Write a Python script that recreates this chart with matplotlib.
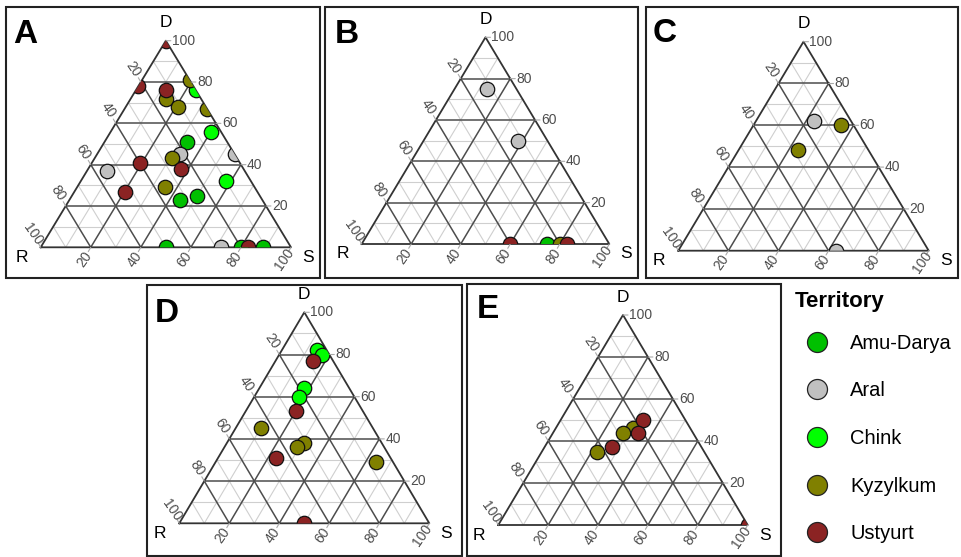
import matplotlib
matplotlib.use("Agg")
import matplotlib.pyplot as plt
from matplotlib.patches import Polygon, Rectangle
from matplotlib.lines import Line2D

plt.rcParams['font.family'] = ['Liberation Sans', 'DejaVu Sans']

FIG_W, FIG_H = 961, 557

territories = ["Amu-Darya", "Aral", "Chink", "Kyzylkum", "Ustyurt"]
territory_colors = ["#00C000", "#C0C0C0", "#00FF00", "#808000", "#8B2323"]
tick_values = [20, 40, 60, 80, 100]

# ---- Panel A ----
A_territory = ["Amu-Darya"] * 6 + ["Aral"] * 4 + ["Chink"] * 3 + ["Kyzylkum"] * 6 + ["Ustyurt"] * 7
A_R = [16, 25, 33, 50, 20, 11,   22, 0, 55, 28,   0, 4, 10,   0, 14, 11, 0, 26, 36,   0, 22, 12, 25, 40, 53, 17]
A_D = [51, 25, 23, 0, 0, 0,      45, 45, 37, 0,   76, 56, 32,  81, 72, 68, 67, 43, 29,  100, 78, 76, 38, 41, 27, 0]
A_S = [33, 50, 44, 50, 80, 89,   33, 55, 8, 72,   24, 40, 58,  19, 14, 21, 33, 31, 35,  0, 0, 12, 37, 19, 20, 83]

# ---- Panel B ----
B_territory = ["Amu-Darya", "Aral", "Aral", "Kyzylkum", "Ustyurt", "Ustyurt"]
B_R = [25, 12, 12, 20, 40, 17]
B_D = [0, 75, 50, 0, 0, 0]
B_S = [75, 13, 38, 80, 60, 83]

# ---- Panel C ----
C_territory = ["Aral", "Aral", "Kyzylkum", "Kyzylkum"]
C_R = [15, 37, 5, 28]
C_D = [62, 0, 60, 48]
C_S = [23, 63, 35, 24]

# ---- Panel D ----
D_territory = ["Chink"] * 4 + ["Kyzylkum"] * 4 + ["Ustyurt"] * 4
D_R = [4, 3, 18, 22,   45, 31, 35, 7,   8, 27, 46, 50]
D_D = [82, 80, 64, 60, 45, 38, 36, 29,  77, 53, 31, 0]
D_S = [14, 17, 18, 18, 10, 31, 29, 64,  15, 20, 23, 50]

# ---- Panel E ----
E_territory = ["Kyzylkum"] * 3 + ["Ustyurt"] * 4
E_R = [23, 28, 43,   17, 22, 36, 0]
E_D = [46, 44, 35,   50, 44, 37, 0]
E_S = [31, 28, 22,   33, 34, 27, 100]

# ---- layout (pixels) ----
panels = [
    # letter, (x_R, x_S, y_top, y_bottom), box (x0, y0, x1, y1), letter baseline (x, y), data
    ("A", (40.7, 291.0, 40.7, 247.3), (6, 7, 320, 278), (13, 43), (A_territory, A_R, A_D, A_S)),
    ("B", (361.7, 609.3, 37.3, 244.0), (325, 7, 638, 278), (335, 43), (B_territory, B_R, B_D, B_S)),
    ("C", (678.3, 928.7, 41.7, 250.7), (646, 7, 958, 278), (653, 42), (C_territory, C_R, C_D, C_S)),
    ("D", (179.3, 429.3, 312.3, 523.3), (147, 285, 462, 556), (155, 322), (D_territory, D_R, D_D, D_S)),
    ("E", (498.3, 747.7, 315.0, 525.0), (467, 284, 781, 556), (477, 318), (E_territory, E_R, E_D, E_S)),
]

fig = plt.figure(figsize=(FIG_W / 100, FIG_H / 100), dpi=100)
fig.patch.set_facecolor("white")

MAJOR_C = "#4d4d4d"
MINOR_C = "#cfcfcf"
LABEL_C = "#4d4d4d"


def draw_panel(letter, tri, box, letter_pos, data):
    xr, xs, yt, yb = tri
    ax = fig.add_axes([xr / FIG_W, 1 - yb / FIG_H, (xs - xr) / FIG_W, (yb - yt) / FIG_H])
    ax.set_xlim(0, 100)
    ax.set_ylim(0, 100)
    ax.axis("off")

    # grid: minor first then major
    for major in (False, True):
        for v in range(10, 100, 10):
            if (v % 20 == 0) != major:
                continue
            c = MAJOR_C if major else MINOR_C
            lw = 1.1 if major else 0.8
            ax.plot([v / 2, 100 - v / 2], [v, v], color=c, lw=lw, zorder=1)          # const D
            ax.plot([(100 - v) / 2, 100 - v], [100 - v, 0], color=c, lw=lw, zorder=1)  # const R
            ax.plot([v, 50 + v / 2], [0, 100 - v], color=c, lw=lw, zorder=1)          # const S
    ax.plot([0, 100, 50, 0], [0, 0, 100, 0], color="#333333", lw=1.3, zorder=2, clip_on=False)

    tick_kw = dict(arrowstyle="-", color="#aaaaaa", lw=0.8, shrinkA=0, shrinkB=0)
    for v in tick_values:
        # D axis (right edge)
        p = (100 - v / 2, v)
        ax.annotate("", xy=p, xytext=(5, 0), textcoords="offset pixels", arrowprops=tick_kw, annotation_clip=False)
        ax.annotate(str(v), xy=p, xytext=(6, 0), textcoords="offset pixels", ha="left", va="center",
                    fontsize=10, color=LABEL_C, annotation_clip=False)
        # R axis (left edge)
        p = ((100 - v) / 2, 100 - v)
        ax.annotate("", xy=p, xytext=(-2.5, 4.3), textcoords="offset pixels", arrowprops=tick_kw, annotation_clip=False)
        ax.annotate(str(v), xy=p, xytext=(-7.5, 13), textcoords="offset pixels", ha="center", va="center",
                    rotation=-55, fontsize=10, color=LABEL_C, annotation_clip=False)
        # S axis (bottom edge)
        p = (v, 0)
        ax.annotate("", xy=p, xytext=(-2.5, -4.3), textcoords="offset pixels", arrowprops=tick_kw, annotation_clip=False)
        ax.annotate(str(v), xy=p, xytext=(-6.5, -12), textcoords="offset pixels", ha="center", va="center",
                    rotation=55, fontsize=10, color=LABEL_C, annotation_clip=False)

    ax.annotate("D", xy=(50, 100), xytext=(0, 18), textcoords="offset pixels", ha="center", va="center",
                fontsize=12.5, annotation_clip=False)
    ax.annotate("R", xy=(0, 0), xytext=(-19, -10), textcoords="offset pixels", ha="center", va="center",
                fontsize=12.5, annotation_clip=False)
    ax.annotate("S", xy=(100, 0), xytext=(17, -10), textcoords="offset pixels", ha="center", va="center",
                fontsize=12.5, annotation_clip=False)

    terr, R, D, S = data
    clip = Polygon([[0, 0], [100, 0], [50, 100]], closed=True, transform=ax.transData)
    for name, col in zip(territories, territory_colors):
        idx = [i for i, t in enumerate(terr) if t == name]
        if not idx:
            continue
        xs_ = [S[i] + D[i] / 2 for i in idx]
        ys_ = [D[i] for i in idx]
        sc = ax.scatter(xs_, ys_, s=108, c=col, edgecolors="#111111", linewidths=0.9, zorder=5)
        sc.set_clip_path(clip)

    # frame and letter
    x0, y0, x1, y1 = box
    fig.add_artist(Rectangle((x0 / FIG_W, 1 - y1 / FIG_H), (x1 - x0) / FIG_W, (y1 - y0) / FIG_H,
                             transform=fig.transFigure, fill=False, ec="#222222", lw=1.5))
    fig.text(letter_pos[0] / FIG_W, 1 - letter_pos[1] / FIG_H, letter, fontsize=24, fontweight="bold",
             ha="left", va="baseline")


for letter, tri, box, lp, data in panels:
    draw_panel(letter, tri, box, lp, data)

# ---- legend ----
fig.text(795 / FIG_W, 1 - 307 / FIG_H, "Territory", fontsize=16, fontweight="bold", ha="left", va="baseline")
leg_y = [341.7, 389.3, 437.0, 485.0, 531.7]
for name, col, y in zip(territories, territory_colors, leg_y):
    fig.add_artist(Line2D([816.7 / FIG_W], [1 - y / FIG_H], transform=fig.transFigure, marker="o",
                          markersize=14.4, markerfacecolor=col, markeredgecolor="#222222",
                          markeredgewidth=0.9, linestyle="none"))
    fig.text(850 / FIG_W, 1 - (y + 7) / FIG_H, name, fontsize=14.5, ha="left", va="baseline")

fig.savefig("out.png", dpi=100)
